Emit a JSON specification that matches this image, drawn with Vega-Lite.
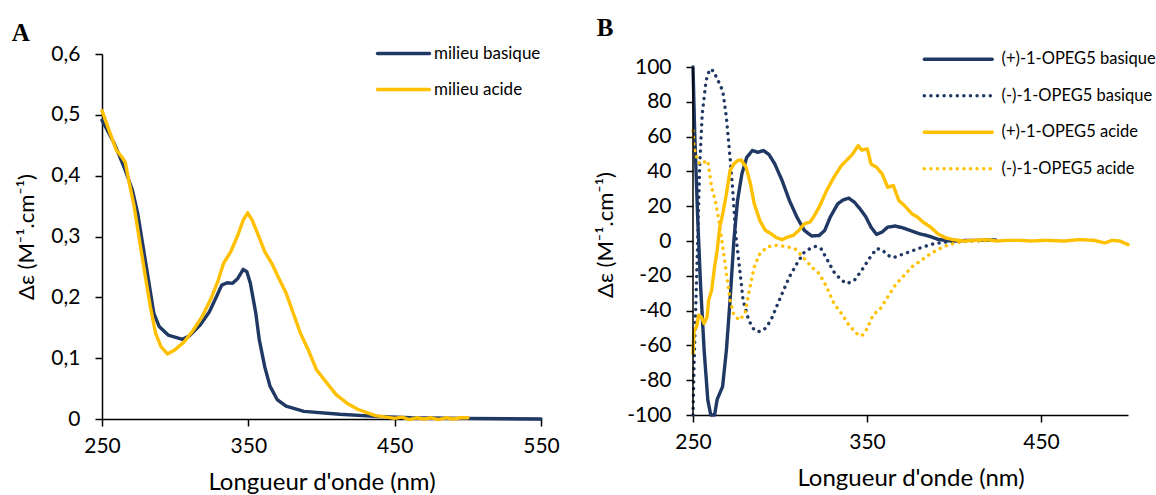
{
  "$schema": "https://vega.github.io/schema/vega-lite/v6.json",
  "padding": {"left": 11, "top": 16, "right": 0, "bottom": 0},
  "spacing": 34,
  "resolve": {"scale": {"color": "independent", "strokeDash": "independent", "x": "independent", "y": "independent"}, "legend": {"color": "independent", "strokeDash": "independent"}},
  "config": {
    "font": "Lato",
    "view": {"stroke": null},
    "axis": {"labelFontSize": 21, "titleFontSize": 24, "titleFontWeight": "normal", "labelColor": "#000", "titleColor": "#000", "domainColor": "#000", "tickColor": "#000", "grid": false, "tickSize": 7, "domainWidth": 1.5, "tickWidth": 1.5, "labelFont": "Lato", "titleFont": "Lato", "labelOverlap": false, "labelFlush": false},
    "legend": {"labelColor": "#000", "labelFont": "Lato", "padding": 0},
    "title": {"font": "Liberation Serif", "fontSize": 25, "fontWeight": "bold", "color": "#000", "anchor": "start", "frame": "bounds"}
  },
  "hconcat": [
    {
      "width": 439,
      "height": 365,
      "title": {"text": "A", "offset": -3, "dx": -4},
      "data": {"values": [
        {"wl": 250, "v": 0.491, "s": "milieu basique"},
        {"wl": 258.6, "v": 0.452, "s": "milieu basique"},
        {"wl": 265.9, "v": 0.409, "s": "milieu basique"},
        {"wl": 270.8, "v": 0.376, "s": "milieu basique"},
        {"wl": 274.4, "v": 0.338, "s": "milieu basique"},
        {"wl": 278.1, "v": 0.283, "s": "milieu basique"},
        {"wl": 281.8, "v": 0.228, "s": "milieu basique"},
        {"wl": 285.4, "v": 0.174, "s": "milieu basique"},
        {"wl": 289.1, "v": 0.152, "s": "milieu basique"},
        {"wl": 295.2, "v": 0.138, "s": "milieu basique"},
        {"wl": 305, "v": 0.131, "s": "milieu basique"},
        {"wl": 309.9, "v": 0.137, "s": "milieu basique"},
        {"wl": 317.2, "v": 0.155, "s": "milieu basique"},
        {"wl": 323.3, "v": 0.176, "s": "milieu basique"},
        {"wl": 328.2, "v": 0.201, "s": "milieu basique"},
        {"wl": 331.8, "v": 0.220, "s": "milieu basique"},
        {"wl": 335.5, "v": 0.224, "s": "milieu basique"},
        {"wl": 339.2, "v": 0.223, "s": "milieu basique"},
        {"wl": 342.8, "v": 0.231, "s": "milieu basique"},
        {"wl": 346.5, "v": 0.246, "s": "milieu basique"},
        {"wl": 349, "v": 0.242, "s": "milieu basique"},
        {"wl": 351.4, "v": 0.223, "s": "milieu basique"},
        {"wl": 355.1, "v": 0.174, "s": "milieu basique"},
        {"wl": 357.5, "v": 0.130, "s": "milieu basique"},
        {"wl": 361.2, "v": 0.086, "s": "milieu basique"},
        {"wl": 364.8, "v": 0.054, "s": "milieu basique"},
        {"wl": 369.7, "v": 0.032, "s": "milieu basique"},
        {"wl": 375.8, "v": 0.021, "s": "milieu basique"},
        {"wl": 388, "v": 0.0126, "s": "milieu basique"},
        {"wl": 412.5, "v": 0.0077, "s": "milieu basique"},
        {"wl": 437, "v": 0.0044, "s": "milieu basique"},
        {"wl": 461, "v": 0.002, "s": "milieu basique"},
        {"wl": 498, "v": 0.001, "s": "milieu basique"},
        {"wl": 550, "v": 0.0, "s": "milieu basique"},
        {"wl": 250, "v": 0.507, "s": "milieu acide"},
        {"wl": 254.9, "v": 0.474, "s": "milieu acide"},
        {"wl": 259.8, "v": 0.442, "s": "milieu acide"},
        {"wl": 263.4, "v": 0.431, "s": "milieu acide"},
        {"wl": 265.9, "v": 0.422, "s": "milieu acide"},
        {"wl": 268.3, "v": 0.392, "s": "milieu acide"},
        {"wl": 272, "v": 0.349, "s": "milieu acide"},
        {"wl": 275.6, "v": 0.294, "s": "milieu acide"},
        {"wl": 279.3, "v": 0.239, "s": "milieu acide"},
        {"wl": 283, "v": 0.185, "s": "milieu acide"},
        {"wl": 286.6, "v": 0.141, "s": "milieu acide"},
        {"wl": 290.3, "v": 0.119, "s": "milieu acide"},
        {"wl": 294.7, "v": 0.107, "s": "milieu acide"},
        {"wl": 300, "v": 0.114, "s": "milieu acide"},
        {"wl": 306.2, "v": 0.127, "s": "milieu acide"},
        {"wl": 312.3, "v": 0.146, "s": "milieu acide"},
        {"wl": 318.4, "v": 0.168, "s": "milieu acide"},
        {"wl": 324.5, "v": 0.198, "s": "milieu acide"},
        {"wl": 329.4, "v": 0.228, "s": "milieu acide"},
        {"wl": 333.1, "v": 0.256, "s": "milieu acide"},
        {"wl": 338, "v": 0.275, "s": "milieu acide"},
        {"wl": 342.8, "v": 0.302, "s": "milieu acide"},
        {"wl": 346.5, "v": 0.327, "s": "milieu acide"},
        {"wl": 349.5, "v": 0.339, "s": "milieu acide"},
        {"wl": 352.6, "v": 0.327, "s": "milieu acide"},
        {"wl": 356.3, "v": 0.305, "s": "milieu acide"},
        {"wl": 361.2, "v": 0.275, "s": "milieu acide"},
        {"wl": 366, "v": 0.256, "s": "milieu acide"},
        {"wl": 370.9, "v": 0.231, "s": "milieu acide"},
        {"wl": 375.8, "v": 0.207, "s": "milieu acide"},
        {"wl": 380.7, "v": 0.174, "s": "milieu acide"},
        {"wl": 385.6, "v": 0.141, "s": "milieu acide"},
        {"wl": 390.5, "v": 0.116, "s": "milieu acide"},
        {"wl": 396.6, "v": 0.081, "s": "milieu acide"},
        {"wl": 402.7, "v": 0.062, "s": "milieu acide"},
        {"wl": 410, "v": 0.040, "s": "milieu acide"},
        {"wl": 417.4, "v": 0.026, "s": "milieu acide"},
        {"wl": 424.7, "v": 0.016, "s": "milieu acide"},
        {"wl": 432, "v": 0.0098, "s": "milieu acide"},
        {"wl": 436.9, "v": 0.0055, "s": "milieu acide"},
        {"wl": 444.2, "v": 0.003, "s": "milieu acide"},
        {"wl": 450, "v": 0.001, "s": "milieu acide"},
        {"wl": 455, "v": 0.003, "s": "milieu acide"},
        {"wl": 460, "v": -0.001, "s": "milieu acide"},
        {"wl": 465, "v": 0.002, "s": "milieu acide"},
        {"wl": 470, "v": 0.0, "s": "milieu acide"},
        {"wl": 475, "v": 0.002, "s": "milieu acide"},
        {"wl": 480, "v": -0.001, "s": "milieu acide"},
        {"wl": 485, "v": 0.002, "s": "milieu acide"},
        {"wl": 490, "v": 0.0, "s": "milieu acide"},
        {"wl": 495, "v": 0.002, "s": "milieu acide"},
        {"wl": 500, "v": 0.002, "s": "milieu acide"}
      ]},
      "mark": {"type": "line", "strokeWidth": 3.4, "strokeCap": "round", "strokeJoin": "round"},
      "encoding": {
        "x": {"field": "wl", "type": "quantitative", "scale": {"domain": [250, 550], "nice": false, "zero": false},
              "axis": {"values": [250, 350, 450, 550], "title": "Longueur d'onde (nm)", "titlePadding": 14, "labelPadding": 9}},
        "y": {"field": "v", "type": "quantitative", "scale": {"domain": [0, 0.6], "nice": false},
              "axis": {"values": [0, 0.1, 0.2, 0.3, 0.4, 0.5, 0.6], "labelExpr": "datum.value == 0 ? '0' : replace(format(datum.value, '.1f'), '.', ',')", "title": "Δε (M⁻¹.cm⁻¹)", "titleFontSize": 22, "titlePadding": 12, "labelPadding": 15, "labelOverlap": false}},
        "color": {"field": "s", "type": "nominal", "scale": {"domain": ["milieu basique", "milieu acide"], "range": ["#203864", "#FFC000"]},
                  "legend": {"title": null, "orient": "none", "legendX": 293, "legendY": -9, "symbolType": "M-5.2,0H5.2", "symbolSize": 100, "symbolStrokeWidth": 3.4, "labelFontSize": 17, "rowPadding": 18, "labelOffset": 22,
                             "encode": {"symbols": {"update": {"strokeCap": {"value": "round"}}}}}}
      }
    },
    {
      "width": 435,
      "height": 361,
      "title": {"text": "B", "offset": 10, "dx": 2},
      "encoding": {
        "x": {"field": "wl", "type": "quantitative", "scale": {"domain": [250, 500], "nice": false, "zero": false},
              "axis": {"values": [250, 350, 450], "title": "Longueur d'onde (nm)", "titlePadding": 14, "labelPadding": 9}},
        "y": {"field": "v", "type": "quantitative", "scale": {"domain": [-100, 107.5], "nice": false, "zero": false},
              "axis": {"values": [-100, -80, -60, -40, -20, 0, 20, 40, 60, 80, 100], "domain": false, "labelOverlap": false, "labelExpr": "'' + datum.value", "title": "Δε (M⁻¹.cm⁻¹)", "titleFontSize": 22, "titlePadding": 9, "labelPadding": 15}}
      },
      "layer": [
        {
          "data": {"values": [
            {"wl": 250, "v": 100, "s": "(+)-1-OPEG5 basique"},
            {"wl": 251, "v": 61.5, "s": "(+)-1-OPEG5 basique"},
            {"wl": 252.6, "v": 15.7, "s": "(+)-1-OPEG5 basique"},
            {"wl": 254.3, "v": -24.5, "s": "(+)-1-OPEG5 basique"},
            {"wl": 256.4, "v": -62.7, "s": "(+)-1-OPEG5 basique"},
            {"wl": 258.5, "v": -91.3, "s": "(+)-1-OPEG5 basique"},
            {"wl": 260.2, "v": -100, "s": "(+)-1-OPEG5 basique"},
            {"wl": 262.4, "v": -100, "s": "(+)-1-OPEG5 basique"},
            {"wl": 263.9, "v": -91, "s": "(+)-1-OPEG5 basique"},
            {"wl": 265.4, "v": -87.5, "s": "(+)-1-OPEG5 basique"},
            {"wl": 267, "v": -83.7, "s": "(+)-1-OPEG5 basique"},
            {"wl": 269.2, "v": -62.7, "s": "(+)-1-OPEG5 basique"},
            {"wl": 271.3, "v": -34, "s": "(+)-1-OPEG5 basique"},
            {"wl": 273.5, "v": 0.4, "s": "(+)-1-OPEG5 basique"},
            {"wl": 275.6, "v": 23.3, "s": "(+)-1-OPEG5 basique"},
            {"wl": 278.1, "v": 38.6, "s": "(+)-1-OPEG5 basique"},
            {"wl": 280.9, "v": 48.1, "s": "(+)-1-OPEG5 basique"},
            {"wl": 284.1, "v": 52, "s": "(+)-1-OPEG5 basique"},
            {"wl": 287.3, "v": 51, "s": "(+)-1-OPEG5 basique"},
            {"wl": 290.5, "v": 52, "s": "(+)-1-OPEG5 basique"},
            {"wl": 293.7, "v": 49.7, "s": "(+)-1-OPEG5 basique"},
            {"wl": 297, "v": 44.3, "s": "(+)-1-OPEG5 basique"},
            {"wl": 301.2, "v": 34.8, "s": "(+)-1-OPEG5 basique"},
            {"wl": 305.4, "v": 23.3, "s": "(+)-1-OPEG5 basique"},
            {"wl": 309.7, "v": 13.8, "s": "(+)-1-OPEG5 basique"},
            {"wl": 314, "v": 6.1, "s": "(+)-1-OPEG5 basique"},
            {"wl": 318.2, "v": 2.9, "s": "(+)-1-OPEG5 basique"},
            {"wl": 322.5, "v": 3.2, "s": "(+)-1-OPEG5 basique"},
            {"wl": 325.7, "v": 6.1, "s": "(+)-1-OPEG5 basique"},
            {"wl": 328.9, "v": 13.8, "s": "(+)-1-OPEG5 basique"},
            {"wl": 333.2, "v": 21.4, "s": "(+)-1-OPEG5 basique"},
            {"wl": 336.4, "v": 23.7, "s": "(+)-1-OPEG5 basique"},
            {"wl": 339.6, "v": 24.6, "s": "(+)-1-OPEG5 basique"},
            {"wl": 342.8, "v": 22.3, "s": "(+)-1-OPEG5 basique"},
            {"wl": 346, "v": 18.5, "s": "(+)-1-OPEG5 basique"},
            {"wl": 349.2, "v": 14.1, "s": "(+)-1-OPEG5 basique"},
            {"wl": 352.3, "v": 8, "s": "(+)-1-OPEG5 basique"},
            {"wl": 355.5, "v": 3.8, "s": "(+)-1-OPEG5 basique"},
            {"wl": 358.7, "v": 5.2, "s": "(+)-1-OPEG5 basique"},
            {"wl": 361.9, "v": 8, "s": "(+)-1-OPEG5 basique"},
            {"wl": 366.2, "v": 8.6, "s": "(+)-1-OPEG5 basique"},
            {"wl": 370.5, "v": 7.6, "s": "(+)-1-OPEG5 basique"},
            {"wl": 374.7, "v": 6.1, "s": "(+)-1-OPEG5 basique"},
            {"wl": 380, "v": 4.2, "s": "(+)-1-OPEG5 basique"},
            {"wl": 385.4, "v": 2.9, "s": "(+)-1-OPEG5 basique"},
            {"wl": 390.7, "v": 1, "s": "(+)-1-OPEG5 basique"},
            {"wl": 396, "v": 0.2, "s": "(+)-1-OPEG5 basique"},
            {"wl": 401.4, "v": 0, "s": "(+)-1-OPEG5 basique"},
            {"wl": 407.8, "v": 0.4, "s": "(+)-1-OPEG5 basique"},
            {"wl": 416.3, "v": 0.4, "s": "(+)-1-OPEG5 basique"},
            {"wl": 424, "v": 0.6, "s": "(+)-1-OPEG5 basique"},
            {"wl": 250, "v": -100, "s": "(-)-1-OPEG5 basique"},
            {"wl": 250.6, "v": -72, "s": "(-)-1-OPEG5 basique"},
            {"wl": 251.7, "v": -34, "s": "(-)-1-OPEG5 basique"},
            {"wl": 252.8, "v": 4, "s": "(-)-1-OPEG5 basique"},
            {"wl": 253.8, "v": 42.4, "s": "(-)-1-OPEG5 basique"},
            {"wl": 255.3, "v": 73, "s": "(-)-1-OPEG5 basique"},
            {"wl": 257.5, "v": 92.2, "s": "(-)-1-OPEG5 basique"},
            {"wl": 259.6, "v": 98.8, "s": "(-)-1-OPEG5 basique"},
            {"wl": 261.7, "v": 97.8, "s": "(-)-1-OPEG5 basique"},
            {"wl": 264.5, "v": 92, "s": "(-)-1-OPEG5 basique"},
            {"wl": 267.1, "v": 86.3, "s": "(-)-1-OPEG5 basique"},
            {"wl": 269.2, "v": 71, "s": "(-)-1-OPEG5 basique"},
            {"wl": 271.3, "v": 48.1, "s": "(-)-1-OPEG5 basique"},
            {"wl": 273, "v": 27.1, "s": "(-)-1-OPEG5 basique"},
            {"wl": 274.5, "v": 4.2, "s": "(-)-1-OPEG5 basique"},
            {"wl": 276.7, "v": -14.9, "s": "(-)-1-OPEG5 basique"},
            {"wl": 278.8, "v": -34, "s": "(-)-1-OPEG5 basique"},
            {"wl": 282, "v": -45.5, "s": "(-)-1-OPEG5 basique"},
            {"wl": 285.2, "v": -51.2, "s": "(-)-1-OPEG5 basique"},
            {"wl": 288.4, "v": -52.1, "s": "(-)-1-OPEG5 basique"},
            {"wl": 291.6, "v": -50.2, "s": "(-)-1-OPEG5 basique"},
            {"wl": 294.8, "v": -45.5, "s": "(-)-1-OPEG5 basique"},
            {"wl": 298, "v": -37.8, "s": "(-)-1-OPEG5 basique"},
            {"wl": 301.2, "v": -30.2, "s": "(-)-1-OPEG5 basique"},
            {"wl": 305.4, "v": -20.6, "s": "(-)-1-OPEG5 basique"},
            {"wl": 309.7, "v": -13, "s": "(-)-1-OPEG5 basique"},
            {"wl": 314, "v": -6.3, "s": "(-)-1-OPEG5 basique"},
            {"wl": 317.2, "v": -4.4, "s": "(-)-1-OPEG5 basique"},
            {"wl": 320.4, "v": -3.1, "s": "(-)-1-OPEG5 basique"},
            {"wl": 323.6, "v": -4.4, "s": "(-)-1-OPEG5 basique"},
            {"wl": 326.8, "v": -10.1, "s": "(-)-1-OPEG5 basique"},
            {"wl": 331, "v": -17.8, "s": "(-)-1-OPEG5 basique"},
            {"wl": 335.3, "v": -22.5, "s": "(-)-1-OPEG5 basique"},
            {"wl": 338.5, "v": -24.5, "s": "(-)-1-OPEG5 basique"},
            {"wl": 342.8, "v": -22.5, "s": "(-)-1-OPEG5 basique"},
            {"wl": 347, "v": -16.8, "s": "(-)-1-OPEG5 basique"},
            {"wl": 351.3, "v": -10.1, "s": "(-)-1-OPEG5 basique"},
            {"wl": 355.5, "v": -4.4, "s": "(-)-1-OPEG5 basique"},
            {"wl": 358.7, "v": -5, "s": "(-)-1-OPEG5 basique"},
            {"wl": 361.9, "v": -8.2, "s": "(-)-1-OPEG5 basique"},
            {"wl": 365.1, "v": -9.6, "s": "(-)-1-OPEG5 basique"},
            {"wl": 370.5, "v": -7.6, "s": "(-)-1-OPEG5 basique"},
            {"wl": 375.8, "v": -5.7, "s": "(-)-1-OPEG5 basique"},
            {"wl": 382.2, "v": -3.4, "s": "(-)-1-OPEG5 basique"},
            {"wl": 388.6, "v": -1.5, "s": "(-)-1-OPEG5 basique"},
            {"wl": 397.1, "v": -0.4, "s": "(-)-1-OPEG5 basique"},
            {"wl": 407.8, "v": 0, "s": "(-)-1-OPEG5 basique"},
            {"wl": 422.7, "v": 0.4, "s": "(-)-1-OPEG5 basique"},
            {"wl": 250, "v": -64.6, "s": "(+)-1-OPEG5 acide"},
            {"wl": 250.6, "v": -51.2, "s": "(+)-1-OPEG5 acide"},
            {"wl": 252.1, "v": -49.3, "s": "(+)-1-OPEG5 acide"},
            {"wl": 253.2, "v": -42.6, "s": "(+)-1-OPEG5 acide"},
            {"wl": 254.7, "v": -43.6, "s": "(+)-1-OPEG5 acide"},
            {"wl": 256.4, "v": -47.4, "s": "(+)-1-OPEG5 acide"},
            {"wl": 258.1, "v": -43.6, "s": "(+)-1-OPEG5 acide"},
            {"wl": 259, "v": -34, "s": "(+)-1-OPEG5 acide"},
            {"wl": 260.7, "v": -28.3, "s": "(+)-1-OPEG5 acide"},
            {"wl": 262.4, "v": -14.9, "s": "(+)-1-OPEG5 acide"},
            {"wl": 263.9, "v": -5.3, "s": "(+)-1-OPEG5 acide"},
            {"wl": 265.4, "v": 8, "s": "(+)-1-OPEG5 acide"},
            {"wl": 267.1, "v": 15.7, "s": "(+)-1-OPEG5 acide"},
            {"wl": 269.2, "v": 27.1, "s": "(+)-1-OPEG5 acide"},
            {"wl": 271.3, "v": 40.5, "s": "(+)-1-OPEG5 acide"},
            {"wl": 273.5, "v": 44.3, "s": "(+)-1-OPEG5 acide"},
            {"wl": 275.6, "v": 46.2, "s": "(+)-1-OPEG5 acide"},
            {"wl": 277.7, "v": 46.6, "s": "(+)-1-OPEG5 acide"},
            {"wl": 280.5, "v": 42.4, "s": "(+)-1-OPEG5 acide"},
            {"wl": 283, "v": 32.9, "s": "(+)-1-OPEG5 acide"},
            {"wl": 285.2, "v": 21.4, "s": "(+)-1-OPEG5 acide"},
            {"wl": 288.4, "v": 11.8, "s": "(+)-1-OPEG5 acide"},
            {"wl": 291.6, "v": 6.1, "s": "(+)-1-OPEG5 acide"},
            {"wl": 294.8, "v": 4.2, "s": "(+)-1-OPEG5 acide"},
            {"wl": 298, "v": 1.9, "s": "(+)-1-OPEG5 acide"},
            {"wl": 301.2, "v": 0.8, "s": "(+)-1-OPEG5 acide"},
            {"wl": 304.4, "v": 2.3, "s": "(+)-1-OPEG5 acide"},
            {"wl": 307.6, "v": 3.2, "s": "(+)-1-OPEG5 acide"},
            {"wl": 310.8, "v": 6.1, "s": "(+)-1-OPEG5 acide"},
            {"wl": 314, "v": 9.9, "s": "(+)-1-OPEG5 acide"},
            {"wl": 317.2, "v": 10.9, "s": "(+)-1-OPEG5 acide"},
            {"wl": 319.3, "v": 13.8, "s": "(+)-1-OPEG5 acide"},
            {"wl": 322.5, "v": 19.5, "s": "(+)-1-OPEG5 acide"},
            {"wl": 326.8, "v": 29, "s": "(+)-1-OPEG5 acide"},
            {"wl": 331, "v": 36.7, "s": "(+)-1-OPEG5 acide"},
            {"wl": 335.3, "v": 43.4, "s": "(+)-1-OPEG5 acide"},
            {"wl": 338.5, "v": 46.6, "s": "(+)-1-OPEG5 acide"},
            {"wl": 341.7, "v": 50, "s": "(+)-1-OPEG5 acide"},
            {"wl": 344.9, "v": 54.8, "s": "(+)-1-OPEG5 acide"},
            {"wl": 347, "v": 52.3, "s": "(+)-1-OPEG5 acide"},
            {"wl": 350.2, "v": 52.9, "s": "(+)-1-OPEG5 acide"},
            {"wl": 352.3, "v": 44.3, "s": "(+)-1-OPEG5 acide"},
            {"wl": 355.5, "v": 42.4, "s": "(+)-1-OPEG5 acide"},
            {"wl": 358.7, "v": 38.6, "s": "(+)-1-OPEG5 acide"},
            {"wl": 361.9, "v": 30.9, "s": "(+)-1-OPEG5 acide"},
            {"wl": 365.1, "v": 31.9, "s": "(+)-1-OPEG5 acide"},
            {"wl": 368.3, "v": 23.3, "s": "(+)-1-OPEG5 acide"},
            {"wl": 371.5, "v": 20.4, "s": "(+)-1-OPEG5 acide"},
            {"wl": 375.8, "v": 15.7, "s": "(+)-1-OPEG5 acide"},
            {"wl": 379, "v": 13.8, "s": "(+)-1-OPEG5 acide"},
            {"wl": 382.2, "v": 10.9, "s": "(+)-1-OPEG5 acide"},
            {"wl": 386.5, "v": 8, "s": "(+)-1-OPEG5 acide"},
            {"wl": 390.7, "v": 4.2, "s": "(+)-1-OPEG5 acide"},
            {"wl": 395, "v": 1.9, "s": "(+)-1-OPEG5 acide"},
            {"wl": 399.3, "v": 0.8, "s": "(+)-1-OPEG5 acide"},
            {"wl": 405.7, "v": 0, "s": "(+)-1-OPEG5 acide"},
            {"wl": 412, "v": 0.4, "s": "(+)-1-OPEG5 acide"},
            {"wl": 418.4, "v": 0.8, "s": "(+)-1-OPEG5 acide"},
            {"wl": 424.8, "v": 0, "s": "(+)-1-OPEG5 acide"},
            {"wl": 431.2, "v": 0.4, "s": "(+)-1-OPEG5 acide"},
            {"wl": 437.6, "v": 0.4, "s": "(+)-1-OPEG5 acide"},
            {"wl": 444, "v": 0, "s": "(+)-1-OPEG5 acide"},
            {"wl": 452.6, "v": 0.4, "s": "(+)-1-OPEG5 acide"},
            {"wl": 463.2, "v": 0, "s": "(+)-1-OPEG5 acide"},
            {"wl": 471.7, "v": 0.8, "s": "(+)-1-OPEG5 acide"},
            {"wl": 480.3, "v": 0.4, "s": "(+)-1-OPEG5 acide"},
            {"wl": 486.7, "v": -1.1, "s": "(+)-1-OPEG5 acide"},
            {"wl": 491, "v": 0.4, "s": "(+)-1-OPEG5 acide"},
            {"wl": 495.2, "v": 0, "s": "(+)-1-OPEG5 acide"},
            {"wl": 500, "v": -2.1, "s": "(+)-1-OPEG5 acide"},
            {"wl": 250, "v": 63.4, "s": "(-)-1-OPEG5 acide"},
            {"wl": 250.6, "v": 53.9, "s": "(-)-1-OPEG5 acide"},
            {"wl": 252.1, "v": 48.1, "s": "(-)-1-OPEG5 acide"},
            {"wl": 253.8, "v": 44.3, "s": "(-)-1-OPEG5 acide"},
            {"wl": 256.4, "v": 45.3, "s": "(-)-1-OPEG5 acide"},
            {"wl": 258.5, "v": 46.2, "s": "(-)-1-OPEG5 acide"},
            {"wl": 260.7, "v": 30.9, "s": "(-)-1-OPEG5 acide"},
            {"wl": 262.8, "v": 23.3, "s": "(-)-1-OPEG5 acide"},
            {"wl": 264.9, "v": 11.8, "s": "(-)-1-OPEG5 acide"},
            {"wl": 267.1, "v": -3.4, "s": "(-)-1-OPEG5 acide"},
            {"wl": 269.2, "v": -18.7, "s": "(-)-1-OPEG5 acide"},
            {"wl": 271.3, "v": -34, "s": "(-)-1-OPEG5 acide"},
            {"wl": 273.5, "v": -42.6, "s": "(-)-1-OPEG5 acide"},
            {"wl": 276.7, "v": -45.5, "s": "(-)-1-OPEG5 acide"},
            {"wl": 279.9, "v": -41.6, "s": "(-)-1-OPEG5 acide"},
            {"wl": 282, "v": -30.2, "s": "(-)-1-OPEG5 acide"},
            {"wl": 285.2, "v": -14.9, "s": "(-)-1-OPEG5 acide"},
            {"wl": 288.4, "v": -7.3, "s": "(-)-1-OPEG5 acide"},
            {"wl": 292.6, "v": -3.4, "s": "(-)-1-OPEG5 acide"},
            {"wl": 298, "v": -2.5, "s": "(-)-1-OPEG5 acide"},
            {"wl": 303.3, "v": -3.1, "s": "(-)-1-OPEG5 acide"},
            {"wl": 308.6, "v": -4.4, "s": "(-)-1-OPEG5 acide"},
            {"wl": 314, "v": -10.1, "s": "(-)-1-OPEG5 acide"},
            {"wl": 318.2, "v": -14.9, "s": "(-)-1-OPEG5 acide"},
            {"wl": 322.5, "v": -18.7, "s": "(-)-1-OPEG5 acide"},
            {"wl": 326.8, "v": -26.4, "s": "(-)-1-OPEG5 acide"},
            {"wl": 331, "v": -35.9, "s": "(-)-1-OPEG5 acide"},
            {"wl": 335.3, "v": -41.6, "s": "(-)-1-OPEG5 acide"},
            {"wl": 339.6, "v": -48.3, "s": "(-)-1-OPEG5 acide"},
            {"wl": 343.9, "v": -53.1, "s": "(-)-1-OPEG5 acide"},
            {"wl": 347, "v": -54.6, "s": "(-)-1-OPEG5 acide"},
            {"wl": 350.2, "v": -50.2, "s": "(-)-1-OPEG5 acide"},
            {"wl": 353.4, "v": -42.6, "s": "(-)-1-OPEG5 acide"},
            {"wl": 357.7, "v": -38.8, "s": "(-)-1-OPEG5 acide"},
            {"wl": 361.9, "v": -32.1, "s": "(-)-1-OPEG5 acide"},
            {"wl": 366.2, "v": -25.4, "s": "(-)-1-OPEG5 acide"},
            {"wl": 370.5, "v": -20.6, "s": "(-)-1-OPEG5 acide"},
            {"wl": 375.8, "v": -14.9, "s": "(-)-1-OPEG5 acide"},
            {"wl": 381.1, "v": -11.1, "s": "(-)-1-OPEG5 acide"},
            {"wl": 386.5, "v": -7.3, "s": "(-)-1-OPEG5 acide"},
            {"wl": 391.8, "v": -4.4, "s": "(-)-1-OPEG5 acide"},
            {"wl": 397.1, "v": -2.1, "s": "(-)-1-OPEG5 acide"},
            {"wl": 403.5, "v": -0.6, "s": "(-)-1-OPEG5 acide"},
            {"wl": 409.9, "v": 0, "s": "(-)-1-OPEG5 acide"},
            {"wl": 422.7, "v": 0.4, "s": "(-)-1-OPEG5 acide"}
          ]},
          "mark": {"type": "line", "strokeWidth": 3.4, "strokeCap": "round", "strokeJoin": "round"},
          "encoding": {
            "color": {"field": "s", "type": "nominal", "scale": {"domain": ["(+)-1-OPEG5 basique", "(-)-1-OPEG5 basique", "(+)-1-OPEG5 acide", "(-)-1-OPEG5 acide"], "range": ["#203864", "#203864", "#FFC000", "#FFC000"]},
                      "legend": {"title": null, "orient": "none", "legendX": 257, "legendY": -3, "symbolType": "M-6.8,0H6.8", "symbolSize": 100, "symbolStrokeWidth": 3.4, "labelFontSize": 16.5, "rowPadding": 19.5, "labelOffset": 35,
                                 "encode": {"symbols": {"update": {"strokeCap": {"value": "round"}}}}}},
            "strokeDash": {"field": "s", "type": "nominal", "scale": {"domain": ["(+)-1-OPEG5 basique", "(-)-1-OPEG5 basique", "(+)-1-OPEG5 acide", "(-)-1-OPEG5 acide"], "range": [[1, 0], [0.1, 6.5], [1, 0], [0.1, 6.5]]},
                           "legend": {"title": null, "orient": "none", "legendX": 257, "legendY": -3, "symbolType": "M-6.8,0H6.8", "symbolSize": 100, "symbolStrokeWidth": 3.4, "labelFontSize": 16.5, "rowPadding": 19.5, "labelOffset": 35,
                                      "encode": {"symbols": {"update": {"strokeCap": {"value": "round"}}}}}}
          }
        },
        {
          "data": {"values": [{"wl": 250, "v": -100, "v2": 100}]},
          "mark": {"type": "rule", "color": "#000", "strokeWidth": 1.5},
          "encoding": {
            "y2": {"field": "v2"}
          }
        }
      ]
    }
  ]
}
